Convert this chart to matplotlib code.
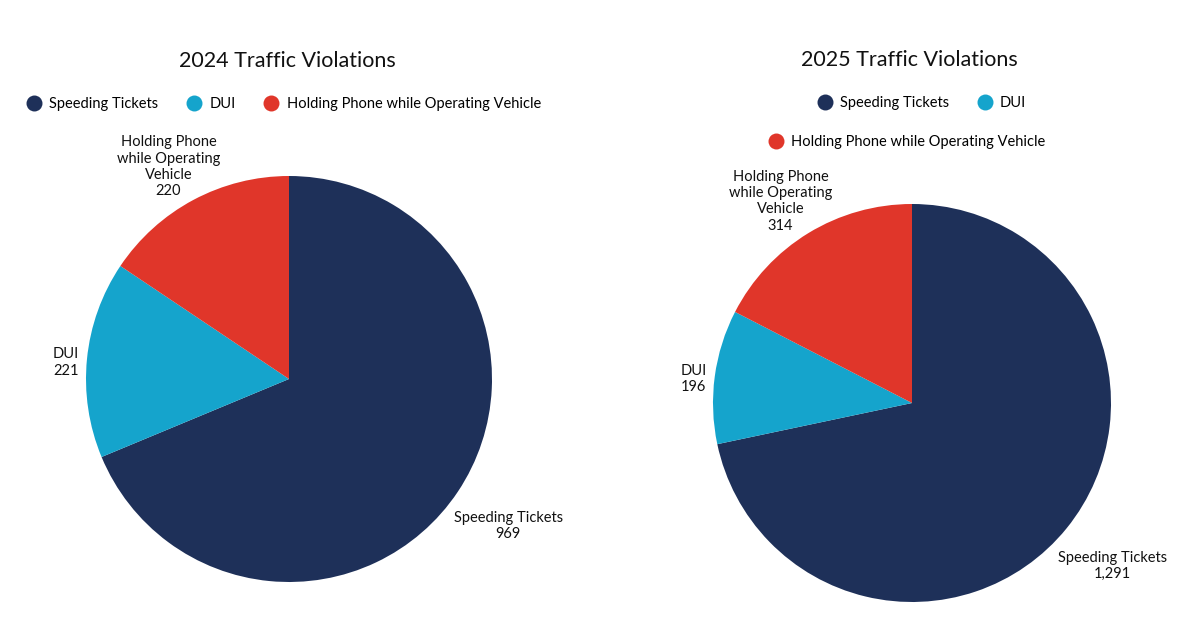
import numpy as np
import matplotlib as mpl
mpl.use('Agg')
import matplotlib.pyplot as plt
from matplotlib.lines import Line2D

plt.rcParams['font.family'] = ['Lato', 'DejaVu Sans']

categories = ['Speeding Tickets', 'DUI', 'Holding Phone while Operating Vehicle']
label_text = ['Speeding Tickets', 'DUI', 'Holding Phone\nwhile Operating\nVehicle']
values_2024 = [969, 221, 220]
values_2025 = [1291, 196, 314]
colors = ['#1e3059', '#15a4cc', '#e0362a']

W, H = 1200, 630
fig = plt.figure(figsize=(W / 100, H / 100), dpi=100)
renderer = fig.canvas.get_renderer()


def px_axes(cx, cy, r):
    # axes box in pixel coords (y from top) -> figure fraction
    return fig.add_axes([(cx - r) / W, (H - cy - r) / H, 2 * r / W, 2 * r / H])


def draw_pie(ax, values, r_px):
    wedges, _ = ax.pie(values, colors=colors, startangle=90, counterclock=False,
                       radius=1, wedgeprops=dict(linewidth=0))
    ax.set_xlim(-1, 1)
    ax.set_ylim(-1, 1)
    ax.set_aspect('equal')
    ax.axis('off')
    for w, txt, v in zip(wedges, label_text, values):
        ang = np.deg2rad((w.theta1 + w.theta2) / 2)
        c, s = np.cos(ang), np.sin(ang)
        t = ax.text(0, 0, f'{txt}\n{v:,}', ha='center', va='center',
                    multialignment='center', fontsize=10.5, color='#111111',
                    linespacing=1.2, clip_on=False)
        bb = t.get_window_extent(renderer=renderer)
        hw, hh = bb.width / 2 / r_px, bb.height / 2 / r_px
        # keep the label box just outside the rim, on the slice's mid-angle
        x = 1.04 * c + c * hw * (0.75 + 0.25 * abs(c))
        y = 1.12 * s + s * hh - 0.03 - 0.055 * abs(s)
        t.set_position((x, y))


def handles(idx):
    return [Line2D([], [], marker='o', linestyle='none', markersize=11.5,
                   markerfacecolor=colors[i], markeredgewidth=0,
                   label=categories[i]) for i in idx]


ax1 = px_axes(289, 379, 203)
draw_pie(ax1, values_2024, 203)
ax2 = px_axes(912, 403, 199)
draw_pie(ax2, values_2025, 199)

fig.text(287 / W, 1 - 61 / H, '2024 Traffic Violations', ha='center', va='center',
         fontsize=15.5, color='#111111')
fig.text(909 / W, 1 - 60 / H, '2025 Traffic Violations', ha='center', va='center',
         fontsize=15.5, color='#111111')

leg_kw = dict(frameon=False, fontsize=10.5, handletextpad=0.45, columnspacing=1.85,
              handlelength=1.2, borderpad=0, borderaxespad=0)
fig.legend(handles=handles([0, 1, 2]), ncol=3, loc='center',
           bbox_to_anchor=(283 / W, 1 - 104 / H), **leg_kw)
fig.legend(handles=handles([0, 1]), ncol=2, loc='center',
           bbox_to_anchor=(921 / W, 1 - 103 / H), **leg_kw)
fig.legend(handles=handles([2]), ncol=1, loc='center',
           bbox_to_anchor=(906 / W, 1 - 142 / H), **leg_kw)

fig.savefig('out.png', dpi=100, facecolor='white')
